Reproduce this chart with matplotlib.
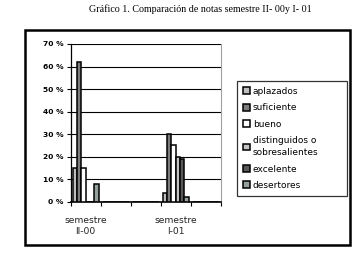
import numpy as np
import matplotlib
matplotlib.use("Agg")
import matplotlib.pyplot as plt
from matplotlib.patches import Rectangle

# datos (porcentaje)
categorias = ["semestre\nII-00", "", "", "semestre\nI-01", ""]
series = ["aplazados", "suficiente", "bueno", "distinguidos o\nsobresalientes", "excelente", "desertores"]
aplazados = [15, 0, 0, 4, 0]
suficiente = [62, 0, 0, 30, 0]
bueno = [15, 0, 0, 25, 0]
distinguidos = [0, 0, 0, 20, 0]
excelente = [0, 0, 0, 19, 0]
desertores = [8, 0, 0, 2, 0]
yticks = [0, 10, 20, 30, 40, 50, 60, 70]

valores = [aplazados, suficiente, bueno, distinguidos, excelente, desertores]
colores = ["#bebebe", "#7c7c7c", "#ffffff", "#c4c4c4", "#585858", "#94a09a"]

fig = plt.figure(figsize=(3.61, 2.63), dpi=100)
fig.patch.set_facecolor("white")

# marco exterior del grafico
fig.patches.append(Rectangle((25 / 361, 1 - 245 / 263), 325 / 361, 215 / 263,
                             transform=fig.transFigure, fill=False,
                             edgecolor="black", linewidth=1.8))

fig.text(200 / 361, 1 - 9 / 263, "Gráfico 1. Comparación de notas semestre II- 00y I- 01",
         ha="center", va="center", fontsize=7.2, family="Liberation Serif")

ax = fig.add_axes([70.7 / 361, 1 - 201.7 / 263, 150 / 361, 157.7 / 263])

x = np.arange(len(categorias))
ancho = 0.145
for i, (nombre, v, c) in enumerate(zip(series, valores, colores)):
    pos = x + (i - 2.5) * ancho
    ax.bar(pos, v, width=ancho, color=c, edgecolor="black", linewidth=1.1,
           label=nombre, zorder=3)

ax.set_xlim(-0.5, len(categorias) - 0.5)
ax.set_ylim(0, 70)
ax.set_yticks(yticks)
ax.set_yticklabels([f"{t} %" for t in yticks], fontsize=5.4, fontweight="bold",
                   family="DejaVu Sans")
ax.yaxis.grid(True, color="black", linewidth=0.8, zorder=0)
ax.set_axisbelow(True)

ax.set_xticks(np.arange(len(categorias) + 1) - 0.5)
ax.set_xticklabels([])
ax.set_xticks(x, minor=True)
ax.set_xticklabels(categorias, minor=True, fontsize=6.6, family="DejaVu Sans",
                   linespacing=1.3, color="#222222")
ax.tick_params(axis="x", which="minor", length=0, pad=10)
ax.tick_params(axis="x", which="major", length=3, width=0.8, direction="out")
ax.tick_params(axis="y", length=3, width=0.8, pad=2)

ax.spines["top"].set_visible(False)
ax.spines["right"].set_color("#a0a0a0")
ax.spines["left"].set_linewidth(0.9)
ax.spines["bottom"].set_linewidth(1.2)

leg = ax.legend(loc="upper left", bbox_to_anchor=(237 / 361, 1 - 81 / 263, 110 / 361, 0),
                bbox_transform=fig.transFigure, mode="expand", frameon=True, fancybox=False,
                prop={"family": "DejaVu Sans", "size": 6.5},
                handlelength=0.8, handleheight=0.8, handletextpad=0.3,
                labelspacing=0.82, borderpad=0.65, borderaxespad=0)
leg.get_frame().set_edgecolor("black")
leg.get_frame().set_linewidth(0.9)
for t in leg.get_texts():
    t.set_linespacing(1.45)

fig.savefig("out.png", dpi=100)
